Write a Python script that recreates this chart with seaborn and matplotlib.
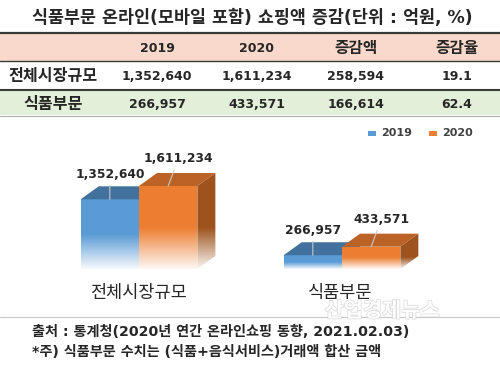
import numpy as np
import pandas as pd
import matplotlib
matplotlib.use("Agg")
import matplotlib.pyplot as plt
import matplotlib.patheffects as pe
from matplotlib.patches import Polygon, Rectangle
import seaborn as sns

# ---- data ----
title = "식품부문 온라인(모바일 포함) 쇼핑액 증감(단위 : 억원, %)"
categories = ["전체시장규모", "식품부문"]
years = ["2019", "2020"]
sales_2019 = [1352640, 266957]
sales_2020 = [1611234, 433571]
change_amt = [258594, 166614]
change_rate = [19.1, 62.4]
header = ["2019", "2020", "증감액", "증감율"]
source_note = "출처 : 통계청(2020년 연간 온라인쇼핑 동향, 2021.02.03)"
foot_note = "*주) 식품부문 수치는 (식품+음식서비스)거래액 합산 금액"
watermark = "산업경제뉴스"

BLUE, BLUE_TOP = "#5B9BD5", "#41719C"
ORANGE, ORANGE_TOP, ORANGE_SIDE = "#ED7D31", "#BB6226", "#9E521D"
PEACH, GREEN = "#F9D9CB", "#E2F0D9"
TXT = "#262626"

sns.set_theme(style="white")
plt.rcParams["font.family"] = ["DejaVu Sans", "Noto Sans CJK KR"]

W, H = 500, 370
fig = plt.figure(figsize=(5, 3.7), dpi=100)
fig.patch.set_facecolor("white")

# overlay in pixel coordinates for table / notes
lay = fig.add_axes([0, 0, 1, 1], zorder=0)
lay.set_xlim(0, W)
lay.set_ylim(H, 0)
lay.axis("off")

lay.text(252, 18, title, ha="center", va="center", fontsize=12.5,
         fontweight="bold", color=TXT)

# table
lay.add_patch(Rectangle((0, 33), W, 28, fc=PEACH, ec="none"))
lay.add_patch(Rectangle((0, 90), W, 25, fc=GREEN, ec="none"))
lay.plot([0, W], [32.5, 32.5], color="#3a3a3a", lw=1.6)
lay.plot([0, W], [61, 61], color="#3a3a3a", lw=1.0)
lay.plot([0, W], [89.5, 89.5], color="#3a3a3a", lw=1.5)
lay.plot([0, W], [115.5, 115.5], color="#b0b0b0", lw=0.8)

col_x = [157, 257, 356, 457]
for x, h in zip(col_x, header):
    lay.text(x, 48, h, ha="center", va="center", fontsize=9 if h.isdigit() else 11.3,
             fontweight="bold", color=TXT)

row_y = [77, 104]
for i, cat in enumerate(categories):
    y = row_y[i]
    lay.text(53, y, cat, ha="center", va="center", fontsize=11.6,
             fontweight="bold", color=TXT)
    vals = [f"{sales_2019[i]:,}", f"{sales_2020[i]:,}",
            f"{change_amt[i]:,}", f"{change_rate[i]:.1f}"]
    for x, v in zip(col_x, vals):
        lay.text(x, y, v, ha="center", va="center", fontsize=9,
                 fontweight="bold", color=TXT)

# legend
for (lx, c, yr) in [(368, BLUE, years[0]), (429, ORANGE, years[1])]:
    lay.add_patch(Rectangle((lx, 130.5), 8, 5, fc=c, ec="none"))
    lay.text(lx + 13, 133, yr, ha="left", va="center", fontsize=8,
             fontweight="bold", color="#404040")

# category labels
for cx, cat in zip([138, 340], categories):
    lay.text(cx, 293, cat, ha="center", va="center", fontsize=12.6,
             fontweight="medium", color=TXT)

# watermark
lay.text(382, 311, watermark, ha="center", va="center", fontsize=15,
         fontweight="bold", color="white", alpha=0.9,
         path_effects=[pe.withStroke(linewidth=1.0, foreground="#d6d6d6")])

# notes
lay.plot([0, W], [317, 317], color="#c8c8c8", lw=0.8)
lay.text(32, 332, source_note, ha="left", va="center", fontsize=10.2,
         fontweight="bold", color=TXT)
lay.text(32, 352, foot_note, ha="left", va="center", fontsize=10.2,
         fontweight="bold", color=TXT)

# ---- 3D-ish bar chart ----
base_px, top_px = 269, 140
ax = fig.add_axes([0, (H - base_px) / H, 1, (base_px - top_px) / H], zorder=1)
ax.patch.set_alpha(0)

df = pd.DataFrame({
    "category": categories * 2,
    "year": np.repeat(years, len(categories)),
    "value": sales_2019 + sales_2020,
})
sns.barplot(data=df, x="category", y="value", hue="year", order=categories,
            hue_order=years, palette=[BLUE, ORANGE], width=0.575,
            saturation=1, legend=False, ax=ax)

px_x = 203.0                      # pixels per category unit
ymax = (base_px - top_px) * 1611234 / 83.0
ux = 1 / px_x
uy = ymax / (base_px - top_px)
dx, dy = 18 * ux, 13 * uy

tops = [BLUE_TOP, ORANGE_TOP]
sides = [BLUE_TOP, ORANGE_SIDE]
ramp = np.linspace(0.95, 0.0, 64)
fade_img = np.ones((64, 1, 4))
fade_img[:, 0, 3] = ramp

for i, bar in enumerate(ax.patches):
    k = i // len(categories)
    z = 2 + 2 * k
    x0, w, h = bar.get_x(), bar.get_width(), bar.get_height()
    bar.set_zorder(z)
    bar.set_edgecolor("none")
    ax.add_patch(Polygon([(x0, h), (x0 + w, h), (x0 + w + dx, h + dy), (x0 + dx, h + dy)],
                         closed=True, fc=tops[k], ec="none", zorder=z + 0.1))
    ax.add_patch(Polygon([(x0 + w, 0), (x0 + w + dx, dy), (x0 + w + dx, h + dy), (x0 + w, h)],
                         closed=True, fc=sides[k], ec="none", zorder=z + 0.1))
    ax.imshow(fade_img, extent=(x0, x0 + w + dx, 0, h * 0.5), origin="lower",
              aspect="auto", interpolation="bilinear", zorder=z + 0.5)
    cx = x0 + w / 2
    off = (0, 25) if k == 0 else (10, 27)
    ax.annotate(f"{int(h):,}", xy=(cx, h), xytext=off, textcoords="offset pixels",
                ha="center", va="center", fontsize=8.8, fontweight="bold",
                color=TXT, zorder=10,
                arrowprops=dict(arrowstyle="-", color="#c8c8c8", lw=0.8,
                                shrinkA=1, shrinkB=0))

ax.set_xlim(-139 / px_x, (W - 139) / px_x)
ax.set_ylim(0, ymax)
ax.axis("off")

fig.savefig("out.png", dpi=100, facecolor="white")
